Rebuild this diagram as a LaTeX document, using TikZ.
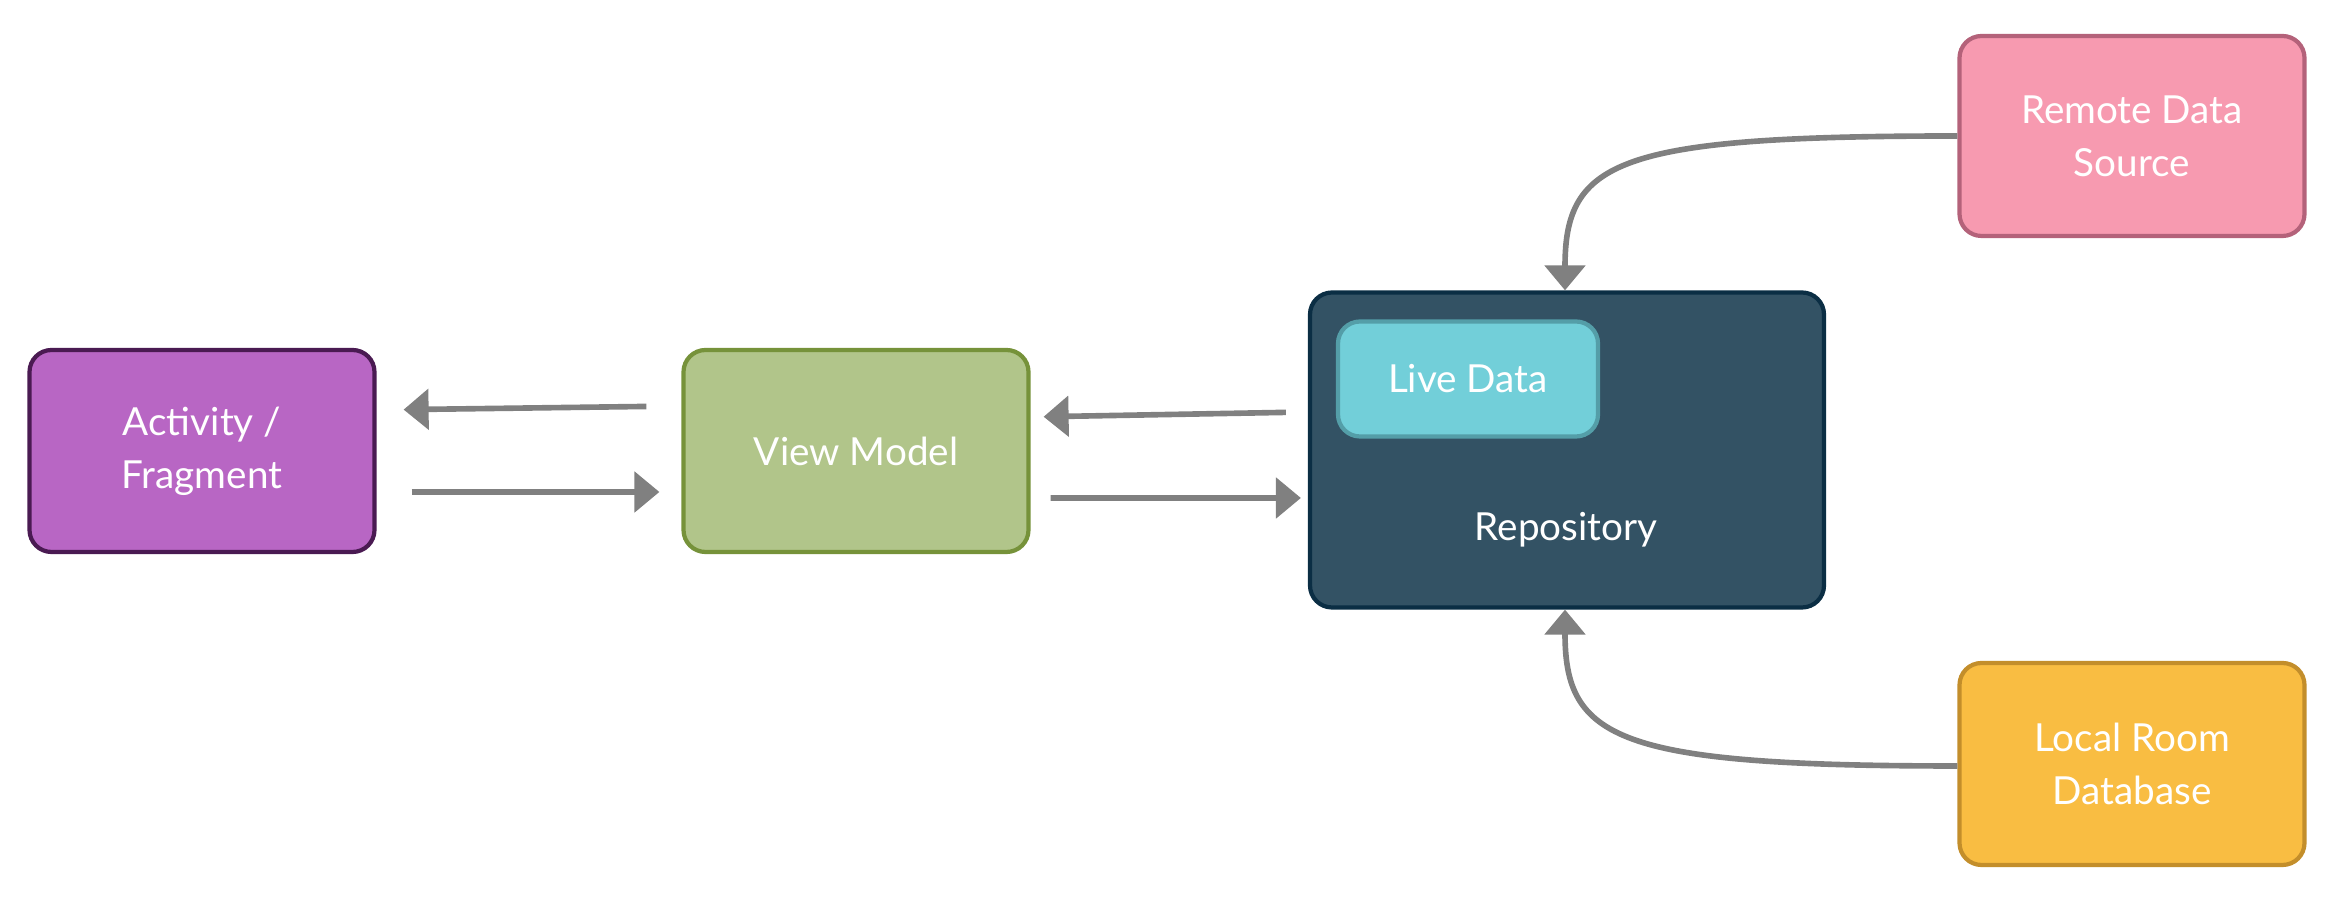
\documentclass[tikz,border=0pt]{standalone}
\usepackage{fontspec}
\setmainfont{Lato}
\usetikzlibrary{arrows.meta}
\definecolor{actfill}{HTML}{B866C4}
\definecolor{actdraw}{HTML}{4A1A52}
\definecolor{vmfill}{HTML}{B1C58A}
\definecolor{vmdraw}{HTML}{76923A}
\definecolor{repofill}{HTML}{335264}
\definecolor{repodraw}{HTML}{0B2E44}
\definecolor{livefill}{HTML}{72CFD9}
\definecolor{livedraw}{HTML}{549EA8}
\definecolor{remfill}{HTML}{F79AB0}
\definecolor{remdraw}{HTML}{B4627A}
\definecolor{locfill}{HTML}{F9BD42}
\definecolor{locdraw}{HTML}{C38E2B}
\definecolor{arrgray}{HTML}{808080}
\tikzset{
  box/.style={rounded corners=0.22cm, line width=1.2pt, text=white, align=center,
    inner sep=0pt, font=\fontsize{11}{15}\selectfont},
  arr/.style={draw=arrgray, line width=1.6pt, -{Triangle[length=0.25cm,width=0.40cm]}},
}
\begin{document}
\begin{tikzpicture}
\useasboundingbox (0,0) rectangle (23.4,9.1);
\node[box, fill=actfill, draw=actdraw, minimum width=3.45cm, minimum height=2.02cm] (act) at (2.02,4.59) {Activity /\\Fragment};
\node[box, fill=vmfill, draw=vmdraw, minimum width=3.45cm, minimum height=2.02cm] (vm) at (8.56,4.59) {View Model};
\node[box, fill=repofill, draw=repodraw, minimum width=5.14cm, minimum height=3.15cm] (repo) at (15.67,4.60) {};
\node[text=white, font=\fontsize{11}{15}\selectfont] (repotext) at (15.66,3.80) {Repository};
\node[box, fill=livefill, draw=livedraw, minimum width=2.60cm, minimum height=1.15cm] (live) at (14.68,5.31) {Live Data};
\node[box, fill=remfill, draw=remdraw, minimum width=3.45cm, minimum height=2.00cm] (rem) at (21.32,7.74) {Remote Data\\Source};
\node[box, fill=locfill, draw=locdraw, minimum width=3.45cm, minimum height=2.02cm] (loc) at (21.32,1.46) {Local Room\\Database};
% horizontal arrows
\draw[arr, shorten <=0.35cm, shorten >=0.27cm] ([yshift=0.45cm]vm.west) -- ([yshift=0.41cm]act.east);
\draw[arr, shorten <=0.35cm, shorten >=0.22cm] ([yshift=-0.41cm]act.east) -- ([yshift=-0.41cm]vm.west);
\draw[arr, shorten <=0.22cm, shorten >=0.13cm] ([yshift=0.38cm]repo.west) -- ([yshift=0.34cm]vm.east);
\draw[arr, shorten <=0.20cm, shorten >=0.07cm] ([yshift=-0.47cm]vm.east) -- ([yshift=-0.48cm]repo.west);
% curved arrows
\draw[arr] (rem.west) .. controls +(-3.4,0) and +(0,1.3) .. ([xshift=-0.02cm]repo.north);
\draw[arr] ([yshift=-0.02cm]loc.west) .. controls +(-3.4,0) and +(0,-1.3) .. ([xshift=-0.02cm]repo.south);
\end{tikzpicture}
\end{document}
